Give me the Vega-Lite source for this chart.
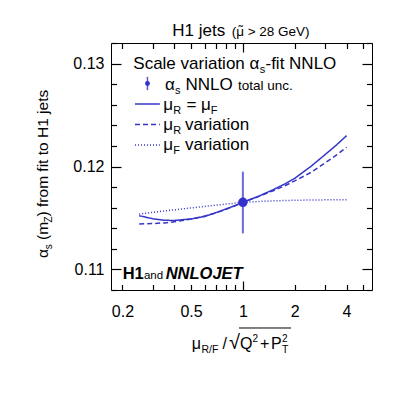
{
  "$schema": "https://vega.github.io/schema/vega-lite/v6.json",
  "width": 261,
  "height": 247,
  "autosize": {"type": "none"},
  "padding": {"left": 111, "top": 43, "right": 47, "bottom": 106},
  "background": "white",
  "config": {
    "view": {"stroke": "black", "strokeWidth": 1},
    "axis": {"grid": false, "domain": false, "labelFont": "Liberation Sans", "labelFontSize": 16, "labelColor": "black", "tickColor": "black", "tickWidth": 1.2}
  },
  "resolve": {"axis": {"x": "independent", "y": "independent"}},
  "datasets": {
    "curves": [
      {"s": "solid", "x": 0.25, "y": 0.11522}, {"s": "solid", "x": 0.3, "y": 0.11492}, {"s": "solid", "x": 0.35, "y": 0.11477}, {"s": "solid", "x": 0.4, "y": 0.11476}, {"s": "solid", "x": 0.5, "y": 0.1149}, {"s": "solid", "x": 0.6, "y": 0.11515}, {"s": "solid", "x": 0.7, "y": 0.11552}, {"s": "solid", "x": 0.8, "y": 0.11588}, {"s": "solid", "x": 0.9, "y": 0.1162}, {"s": "solid", "x": 1.0, "y": 0.11652}, {"s": "solid", "x": 1.25, "y": 0.11715}, {"s": "solid", "x": 1.5, "y": 0.11775}, {"s": "solid", "x": 1.75, "y": 0.1183}, {"s": "solid", "x": 2.0, "y": 0.11885}, {"s": "solid", "x": 2.5, "y": 0.12005}, {"s": "solid", "x": 3.0, "y": 0.12115}, {"s": "solid", "x": 3.5, "y": 0.1221}, {"s": "solid", "x": 4.0, "y": 0.123},
      {"s": "dashed", "x": 0.25, "y": 0.11442}, {"s": "dashed", "x": 0.3, "y": 0.11446}, {"s": "dashed", "x": 0.35, "y": 0.11452}, {"s": "dashed", "x": 0.4, "y": 0.11462}, {"s": "dashed", "x": 0.5, "y": 0.1149}, {"s": "dashed", "x": 0.6, "y": 0.11518}, {"s": "dashed", "x": 0.7, "y": 0.1155}, {"s": "dashed", "x": 0.8, "y": 0.11585}, {"s": "dashed", "x": 0.9, "y": 0.11618}, {"s": "dashed", "x": 1.0, "y": 0.11652}, {"s": "dashed", "x": 1.25, "y": 0.11712}, {"s": "dashed", "x": 1.5, "y": 0.11765}, {"s": "dashed", "x": 1.75, "y": 0.11812}, {"s": "dashed", "x": 2.0, "y": 0.1186}, {"s": "dashed", "x": 2.5, "y": 0.11945}, {"s": "dashed", "x": 3.0, "y": 0.12035}, {"s": "dashed", "x": 3.5, "y": 0.12112}, {"s": "dashed", "x": 4.0, "y": 0.12187},
      {"s": "dotted", "x": 0.25, "y": 0.11538}, {"s": "dotted", "x": 0.35, "y": 0.11568}, {"s": "dotted", "x": 0.5, "y": 0.11597}, {"s": "dotted", "x": 0.7, "y": 0.11625}, {"s": "dotted", "x": 1.0, "y": 0.11652}, {"s": "dotted", "x": 1.4, "y": 0.11665}, {"s": "dotted", "x": 2.0, "y": 0.11672}, {"s": "dotted", "x": 3.0, "y": 0.11676}, {"s": "dotted", "x": 4.0, "y": 0.11678}
    ],
    "err": [{"x": 1, "lo": 0.1135, "hi": 0.1195}],
    "pt": [{"x": 1, "y": 0.11652}],
    "legmark": [{"x": 0.27925, "y": 0.128064, "lo": 0.127418, "hi": 0.128710}],
    "leglines": [
      {"s": "solid", "x": 0.23635, "x2": 0.32961, "y": 0.126072},
      {"s": "dashed", "x": 0.23635, "x2": 0.32961, "y": 0.12408},
      {"s": "dotted", "x": 0.23635, "x2": 0.32961, "y": 0.122089}
    ],
    "txt17": [
      {"t": "H1 jets", "x": 0.38906, "y": 0.132679},
      {"t": "Scale variation α", "x": 0.23104, "y": 0.129473},
      {"t": "-fit NNLO", "x": 1.3528, "y": 0.129473},
      {"t": "α", "x": 0.35285, "y": 0.127481},
      {"t": "NNLO", "x": 0.46416, "y": 0.127481},
      {"t": "μ", "x": 0.34493, "y": 0.125489},
      {"t": "= μ", "x": 0.4704, "y": 0.125489},
      {"t": "μ", "x": 0.34493, "y": 0.123595},
      {"t": "variation", "x": 0.46106, "y": 0.123595},
      {"t": "μ", "x": 0.34493, "y": 0.121603},
      {"t": "variation", "x": 0.46106, "y": 0.121603}
    ],
    "sub11": [
      {"t": "s", "x": 1.2535, "y": 0.129473},
      {"t": "s", "x": 0.40337, "y": 0.127481},
      {"t": "R", "x": 0.39431, "y": 0.125489},
      {"t": "F", "x": 0.65016, "y": 0.125489},
      {"t": "R", "x": 0.39431, "y": 0.123595},
      {"t": "F", "x": 0.39431, "y": 0.121603}
    ],
    "small13": [
      {"t": "total unc.", "x": 0.93659, "y": 0.127481},
      {"t": "(μ > 28 GeV)", "x": 0.86098, "y": 0.132679}
    ],
    "tilde": [{"t": "˜", "x": 0.9707, "y": 0.132679}],
    "and": [{"t": "and", "x": 0.26649, "y": 0.109069}],
    "h1": [{"t": "H1", "x": 0.2004, "y": 0.109069}],
    "nnlojet": [{"t": "NNLOJET", "x": 0.35616, "y": 0.109069}],
    "xt16": [
      {"t": "μ", "x": 0.5043, "y": 0.102559},
      {"t": "/", "x": 0.7611, "y": 0.102559},
      {"t": "Q", "x": 0.96197, "y": 0.102559},
      {"t": "+", "x": 1.2569, "y": 0.102559},
      {"t": "P", "x": 1.4563, "y": 0.102559}
    ],
    "xtsub": [
      {"t": "R/F", "x": 0.57475, "y": 0.102559},
      {"t": "T", "x": 1.687, "y": 0.102559}
    ],
    "xtsup": [
      {"t": "2", "x": 1.1369, "y": 0.102559},
      {"t": "2", "x": 1.687, "y": 0.102559}
    ],
    "sqrt": [{"t": "√", "x": 0.83048, "y": 0.102559}],
    "overline": [{"x": 0.94918, "x2": 1.9029, "y": 0.104308}],
    "yt15": [
      {"t": "α", "x": 0.07383, "y": 0.111109},
      {"t": "(m", "x": 0.07383, "y": 0.112858},
      {"t": ") from fit to H1 jets", "x": 0.07383, "y": 0.115151}
    ],
    "ytsub": [
      {"t": "s", "x": 0.07383, "y": 0.111955},
      {"t": "Z", "x": 0.07383, "y": 0.114559}
    ]
  },
  "layer": [
    {
      "data": {"name": "curves"},
      "mark": {"type": "line", "strokeWidth": 1.5, "color": "#3535c8"},
      "encoding": {
        "x": {"field": "x", "type": "quantitative", "scale": {"type": "log", "domain": [0.1715, 5.62], "nice": false},
              "axis": {"orient": "bottom", "values": [0.2, 0.5, 1, 2, 4], "format": "~g", "ticks": false, "labelPadding": 13, "title": null}},
        "y": {"field": "y", "type": "quantitative", "scale": {"domain": [0.108, 0.132], "nice": false, "zero": false},
              "axis": {"orient": "left", "values": [0.11, 0.12, 0.13], "format": ".2f", "ticks": false, "labelPadding": 7, "title": null}},
        "strokeDash": {"field": "s", "type": "nominal", "scale": {"domain": ["solid", "dashed", "dotted"], "range": [[1, 0], [5, 3], [1, 2]]}, "legend": null}
      }
    },
    {
      "data": {"name": "err"},
      "mark": {"type": "rule", "color": "#6a6ae0", "strokeWidth": 2},
      "encoding": {
        "x": {"field": "x", "type": "quantitative",
              "axis": {"orient": "bottom", "values": [0.2, 0.3, 0.4, 0.5, 0.6, 0.7, 0.8, 0.9, 2, 3, 4, 5], "labels": false, "title": null, "tickSize": 5.5, "offset": -5.5}},
        "y": {"field": "lo", "type": "quantitative",
              "axis": {"orient": "left", "values": [0.108, 0.112, 0.114, 0.116, 0.118, 0.122, 0.124, 0.126, 0.128, 0.132], "labels": false, "title": null, "tickSize": 5.5, "offset": -5.5}},
        "y2": {"field": "hi"}
      }
    },
    {
      "data": {"name": "pt"},
      "mark": {"type": "circle", "size": 90, "color": "#3333cc", "opacity": 1},
      "encoding": {
        "x": {"field": "x", "type": "quantitative",
              "axis": {"orient": "top", "values": [0.2, 0.3, 0.4, 0.5, 0.6, 0.7, 0.8, 0.9, 2, 3, 4, 5], "labels": false, "title": null, "tickSize": 5.5, "offset": -5.5}},
        "y": {"field": "y", "type": "quantitative",
              "axis": {"orient": "right", "values": [0.108, 0.112, 0.114, 0.116, 0.118, 0.122, 0.124, 0.126, 0.128, 0.132], "labels": false, "title": null, "tickSize": 5.5, "offset": -5.5}}
      }
    },
    {
      "data": {"name": "legmark"},
      "mark": {"type": "rule", "color": "#5555d8", "strokeWidth": 1.5},
      "encoding": {
        "x": {"field": "x", "type": "quantitative",
              "axis": {"orient": "bottom", "values": [1], "labels": false, "title": null, "tickSize": 9, "offset": -9}},
        "y": {"field": "lo", "type": "quantitative",
              "axis": {"orient": "left", "values": [0.11, 0.12, 0.13], "labels": false, "title": null, "tickSize": 10, "offset": -10}},
        "y2": {"field": "hi"}
      }
    },
    {
      "data": {"name": "legmark"},
      "mark": {"type": "circle", "size": 24, "color": "#3333cc", "opacity": 1},
      "encoding": {
        "x": {"field": "x", "type": "quantitative",
              "axis": {"orient": "top", "values": [1], "labels": false, "title": null, "tickSize": 9, "offset": -9}},
        "y": {"field": "y", "type": "quantitative",
              "axis": {"orient": "right", "values": [0.11, 0.12, 0.13], "labels": false, "title": null, "tickSize": 10, "offset": -10}}
      }
    },
    {
      "data": {"name": "leglines"},
      "mark": {"type": "rule", "strokeWidth": 1.5, "color": "#3535c8"},
      "encoding": {
        "x": {"field": "x", "type": "quantitative", "axis": null},
        "x2": {"field": "x2"},
        "y": {"field": "y", "type": "quantitative", "axis": null},
        "strokeDash": {"field": "s", "type": "nominal", "legend": null}
      }
    },
    {
      "data": {"name": "txt17"},
      "mark": {"type": "text", "align": "left", "baseline": "alphabetic", "font": "Liberation Sans", "fontSize": 17, "color": "black"},
      "encoding": {
        "x": {"field": "x", "type": "quantitative", "axis": null},
        "y": {"field": "y", "type": "quantitative", "axis": null},
        "text": {"field": "t"}
      }
    },
    {
      "data": {"name": "sub11"},
      "mark": {"type": "text", "align": "left", "baseline": "alphabetic", "font": "Liberation Sans", "fontSize": 11, "dy": 4, "color": "black"},
      "encoding": {
        "x": {"field": "x", "type": "quantitative", "axis": null},
        "y": {"field": "y", "type": "quantitative", "axis": null},
        "text": {"field": "t"}
      }
    },
    {
      "data": {"name": "small13"},
      "mark": {"type": "text", "align": "left", "baseline": "alphabetic", "font": "Liberation Sans", "fontSize": 13.5, "color": "black"},
      "encoding": {
        "x": {"field": "x", "type": "quantitative", "axis": null},
        "y": {"field": "y", "type": "quantitative", "axis": null},
        "text": {"field": "t"}
      }
    },
    {
      "data": {"name": "tilde"},
      "mark": {"type": "text", "align": "center", "baseline": "alphabetic", "font": "Liberation Sans", "fontSize": 13.5, "dy": -1, "color": "black"},
      "encoding": {
        "x": {"field": "x", "type": "quantitative", "axis": null},
        "y": {"field": "y", "type": "quantitative", "axis": null},
        "text": {"field": "t"}
      }
    },
    {
      "data": {"name": "and"},
      "mark": {"type": "text", "align": "left", "baseline": "alphabetic", "font": "Liberation Sans", "fontSize": 11.5, "color": "black"},
      "encoding": {
        "x": {"field": "x", "type": "quantitative", "axis": null},
        "y": {"field": "y", "type": "quantitative", "axis": null},
        "text": {"field": "t"}
      }
    },
    {
      "data": {"name": "h1"},
      "mark": {"type": "text", "align": "left", "baseline": "alphabetic", "font": "Liberation Sans", "fontSize": 16.5, "fontWeight": "bold", "color": "black"},
      "encoding": {
        "x": {"field": "x", "type": "quantitative", "axis": null},
        "y": {"field": "y", "type": "quantitative", "axis": null},
        "text": {"field": "t"}
      }
    },
    {
      "data": {"name": "nnlojet"},
      "mark": {"type": "text", "align": "left", "baseline": "alphabetic", "font": "Liberation Sans", "fontSize": 16.5, "fontWeight": "bold", "fontStyle": "italic", "color": "black"},
      "encoding": {
        "x": {"field": "x", "type": "quantitative", "axis": null},
        "y": {"field": "y", "type": "quantitative", "axis": null},
        "text": {"field": "t"}
      }
    },
    {
      "data": {"name": "xt16"},
      "mark": {"type": "text", "align": "left", "baseline": "alphabetic", "font": "Liberation Sans", "fontSize": 16, "dy": 3, "color": "black"},
      "encoding": {
        "x": {"field": "x", "type": "quantitative", "axis": null},
        "y": {"field": "y", "type": "quantitative", "axis": null},
        "text": {"field": "t"}
      }
    },
    {
      "data": {"name": "xtsub"},
      "mark": {"type": "text", "align": "left", "baseline": "alphabetic", "font": "Liberation Sans", "fontSize": 10.5, "dy": 7, "color": "black"},
      "encoding": {
        "x": {"field": "x", "type": "quantitative", "axis": null},
        "y": {"field": "y", "type": "quantitative", "axis": null},
        "text": {"field": "t"}
      }
    },
    {
      "data": {"name": "xtsup"},
      "mark": {"type": "text", "align": "left", "baseline": "alphabetic", "font": "Liberation Sans", "fontSize": 10, "dy": -4, "color": "black"},
      "encoding": {
        "x": {"field": "x", "type": "quantitative", "axis": null},
        "y": {"field": "y", "type": "quantitative", "axis": null},
        "text": {"field": "t"}
      }
    },
    {
      "data": {"name": "sqrt"},
      "mark": {"type": "text", "align": "left", "baseline": "alphabetic", "font": "Liberation Sans", "fontSize": 20, "dy": 3, "color": "black"},
      "encoding": {
        "x": {"field": "x", "type": "quantitative", "axis": null},
        "y": {"field": "y", "type": "quantitative", "axis": null},
        "text": {"field": "t"}
      }
    },
    {
      "data": {"name": "overline"},
      "mark": {"type": "rule", "color": "black", "strokeWidth": 1},
      "encoding": {
        "x": {"field": "x", "type": "quantitative", "axis": null},
        "x2": {"field": "x2"},
        "y": {"field": "y", "type": "quantitative", "axis": null}
      }
    },
    {
      "data": {"name": "yt15"},
      "mark": {"type": "text", "align": "left", "baseline": "alphabetic", "angle": 270, "font": "Liberation Sans", "fontSize": 15.5, "color": "black"},
      "encoding": {
        "x": {"field": "x", "type": "quantitative", "axis": null},
        "y": {"field": "y", "type": "quantitative", "axis": null},
        "text": {"field": "t"}
      }
    },
    {
      "data": {"name": "ytsub"},
      "mark": {"type": "text", "align": "left", "baseline": "alphabetic", "angle": 270, "font": "Liberation Sans", "fontSize": 10, "dy": 4, "color": "black"},
      "encoding": {
        "x": {"field": "x", "type": "quantitative", "axis": null},
        "y": {"field": "y", "type": "quantitative", "axis": null},
        "text": {"field": "t"}
      }
    }
  ]
}
